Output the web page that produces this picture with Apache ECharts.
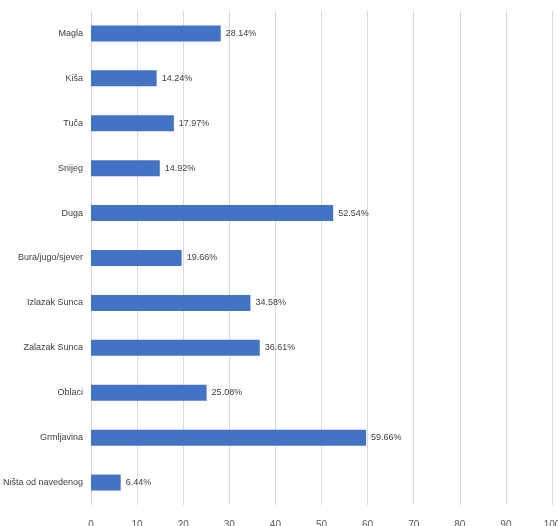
<!DOCTYPE html>
<html>
<head>
<meta charset="utf-8">
<script src="https://cdn.jsdelivr.net/npm/echarts@6/dist/echarts.min.js"></script>
<style>
  html, body { margin: 0; padding: 0; background: #fff; }
  #chart { width: 558px; height: 526px; }
</style>
</head>
<body>
<div id="chart"></div>
<script>
// categories listed top to bottom
var categories = ['Magla', 'Kiša', 'Tuča', 'Snijeg', 'Duga', 'Bura/jugo/sjever',
  'Izlazak Sunca', 'Zalazak Sunca', 'Oblaci', 'Grmljavina', 'Ništa od navedenog'];
var percents = [28.14, 14.24, 17.97, 14.92, 52.54, 19.66, 34.58, 36.61, 25.08, 59.66, 6.44];
var xTicks = [0, 10, 20, 30, 40, 50, 60, 70, 80, 90, 100];

var font = '"Liberation Sans", Arial, sans-serif';

var myChart = echarts.init(document.getElementById('chart'));

var option = {
  animation: false,
  grid: { left: 91, right: 6, top: 11, bottom: 21, outerBoundsMode: 'none' },
  xAxis: {
    type: 'value',
    min: xTicks[0],
    max: xTicks[xTicks.length - 1],
    interval: 10,
    axisLine: { show: false },
    axisTick: { show: false },
    axisLabel: { color: '#595959', fontFamily: font, fontSize: 10, margin: 15 },
    splitLine: { lineStyle: { color: '#d9d9d9', width: 1 } }
  },
  yAxis: {
    type: 'category',
    data: categories,
    inverse: true,
    axisLine: { show: false },
    axisTick: { show: false },
    axisLabel: { color: '#404040', fontFamily: font, fontSize: 9, margin: 8 }
  },
  series: [
    {
      type: 'bar',
      data: percents,
      barWidth: 16,
      itemStyle: { color: '#4472c4' },
      label: {
        show: true,
        position: 'right',
        distance: 5,
        color: '#404040',
        fontFamily: font,
        fontSize: 9,
        formatter: function (p) { return p.value.toFixed(2) + '%'; }
      }
    }
  ]
};

myChart.setOption(option);
</script>
</body>
</html>
